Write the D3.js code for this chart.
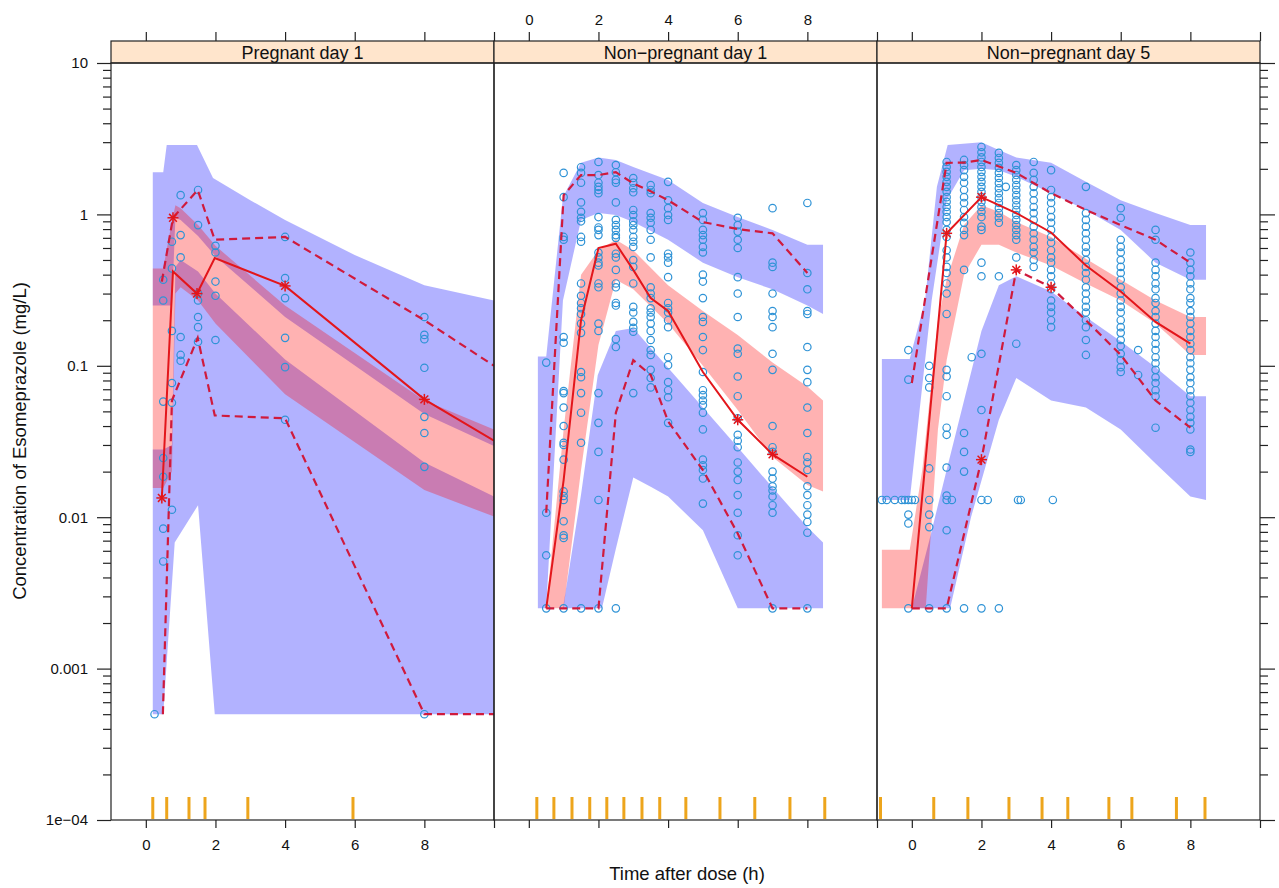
<!DOCTYPE html>
<html>
<head>
<meta charset="utf-8">
<script src="https://cdn.jsdelivr.net/npm/d3@7"></script>
<style>
  body { margin: 0; background: #fff; }
  text { font-family: "Liberation Sans", Arial, sans-serif; fill: #111; }
</style>
</head>
<body>
<svg id="chart" width="1279" height="888"></svg>
<script>
// ---- panel text / axes ----
var panelTitles = ['Pregnant day 1', 'Non\u2212pregnant day 1', 'Non\u2212pregnant day 5'];
var yTicks = [1e-4, 1e-3, 1e-2, 1e-1, 1, 10];
var yTickLabels = ['1e\u221204', '0.001', '0.01', '0.1', '1', '10'];
var xTicks = [0, 2, 4, 6, 8, 10];
var xTickLabels = ['0', '2', '4', '6', '8', ''];

// ---- observed concentrations: [time, [conc...]] ----
var obs1 = [
  [0.25, [0.0005]],
  [0.5, [0.37, 0.27, 0.058, 0.0246, 0.0185, 0.0084, 0.0051]],
  [0.75, [0.66, 0.44, 0.17, 0.077, 0.057, 0.0112]],
  [1.0, [1.34, 0.73, 0.52, 0.155, 0.118, 0.108]],
  [1.5, [1.45, 0.85, 0.30, 0.27, 0.21, 0.18, 0.144]],
  [2.0, [0.62, 0.56, 0.36, 0.29, 0.148]],
  [4.0, [0.71, 0.38, 0.28, 0.153, 0.098, 0.044]],
  [8.0, [0.21, 0.16, 0.15, 0.097, 0.046, 0.036, 0.0215, 0.0005]]
];
var obs2 = [
  [0.5, [0.105, 0.0107, 0.0056, 0.0025]],
  [1.0, [1.88, 1.30, 0.71, 0.68, 0.155, 0.142, 0.068, 0.066, 0.053, 0.040, 0.031, 0.030, 0.024, 0.0148, 0.0138, 0.0130, 0.0094, 0.0076, 0.0073, 0.0025]],
  [1.5, [2.05, 1.88, 1.62, 1.20, 1.04, 0.95, 0.90, 0.71, 0.66, 0.35, 0.29, 0.26, 0.24, 0.22, 0.19, 0.165, 0.091, 0.084, 0.066, 0.049, 0.031, 0.0025]],
  [2.0, [2.22, 1.82, 1.62, 1.52, 1.45, 1.38, 0.96, 0.82, 0.79, 0.73, 0.56, 0.52, 0.48, 0.46, 0.35, 0.33, 0.19, 0.17, 0.066, 0.042, 0.027, 0.013, 0.0025]],
  [2.5, [2.12, 1.9, 1.69, 1.62, 1.20, 0.92, 0.85, 0.79, 0.73, 0.70, 0.55, 0.52, 0.43, 0.35, 0.33, 0.26, 0.25, 0.15, 0.133, 0.0025]],
  [3.0, [1.74, 1.62, 1.49, 1.40, 1.07, 0.99, 0.90, 0.85, 0.79, 0.71, 0.66, 0.61, 0.50, 0.45, 0.35, 0.245, 0.225, 0.195, 0.178, 0.168, 0.066]],
  [3.5, [1.56, 1.45, 1.38, 1.02, 0.95, 0.88, 0.79, 0.68, 0.52, 0.33, 0.30, 0.28, 0.24, 0.225, 0.21, 0.19, 0.17, 0.148, 0.127, 0.118, 0.094, 0.083, 0.072]],
  [4.0, [1.64, 1.24, 1.10, 0.99, 0.92, 0.55, 0.52, 0.48, 0.385, 0.26, 0.24, 0.225, 0.20, 0.18, 0.114, 0.101, 0.078, 0.069, 0.062, 0.042]],
  [5.0, [1.02, 0.92, 0.79, 0.73, 0.68, 0.61, 0.56, 0.40, 0.36, 0.28, 0.21, 0.195, 0.155, 0.127, 0.091, 0.069, 0.064, 0.059, 0.055, 0.049, 0.038, 0.024, 0.022, 0.0205, 0.018, 0.0123]],
  [6.0, [0.95, 0.85, 0.77, 0.68, 0.60, 0.385, 0.30, 0.21, 0.13, 0.12, 0.085, 0.063, 0.045, 0.035, 0.032, 0.029, 0.023, 0.020, 0.0176, 0.014, 0.0107, 0.0076, 0.0056]],
  [7.0, [1.1, 0.48, 0.45, 0.30, 0.23, 0.21, 0.18, 0.12, 0.094, 0.040, 0.029, 0.027, 0.020, 0.018, 0.016, 0.015, 0.0137, 0.012, 0.0107, 0.0025]],
  [8.0, [1.19, 0.41, 0.32, 0.23, 0.22, 0.133, 0.094, 0.078, 0.053, 0.036, 0.025, 0.023, 0.0205, 0.016, 0.014, 0.012, 0.0104, 0.0093, 0.0079, 0.0025]]
];
var obs3 = [
  [-0.86, [0.013]], [-0.72, [0.013]], [-0.49, [0.013]], [-0.29, [0.013]],
  [-0.2, [0.013]], [0.0, [0.013]], [0.09, [0.013]],
  [-0.1, [0.127, 0.081, 0.013, 0.0104, 0.0091, 0.0025]],
  [0.5, [0.1, 0.083, 0.072, 0.021, 0.013, 0.0104, 0.0086, 0.0025]],
  [1.0, [2.22, 2.06, 1.91, 1.77, 1.64, 1.52, 1.41, 1.30, 1.21, 1.12, 1.04, 0.96, 0.89, 0.79, 0.71, 0.58, 0.52, 0.45, 0.41, 0.35, 0.30, 0.22, 0.094, 0.085, 0.063, 0.039, 0.035, 0.0213, 0.0139, 0.013, 0.0082, 0.0025]],
  [1.15, [0.013]],
  [1.5, [2.29, 2.12, 1.96, 1.77, 1.62, 1.45, 1.30, 1.19, 1.07, 0.96, 0.88, 0.79, 0.73, 0.43, 0.036, 0.027, 0.020, 0.0025]],
  [1.72, [0.114]],
  [2.0, [2.79, 2.57, 2.38, 2.22, 2.06, 1.91, 1.77, 1.64, 1.52, 1.41, 1.30, 1.21, 1.12, 1.04, 0.96, 0.83, 0.79, 0.48, 0.39, 0.12, 0.051, 0.013, 0.0025]],
  [2.18, [0.013]],
  [2.5, [2.55, 2.36, 2.19, 2.03, 1.88, 1.74, 1.61, 1.49, 1.38, 1.28, 1.19, 1.10, 1.02, 0.95, 0.88, 0.39, 0.0025]],
  [2.7, [1.52]],
  [3.0, [2.12, 1.96, 1.82, 1.69, 1.56, 1.45, 1.34, 1.24, 1.15, 1.07, 0.99, 0.92, 0.85, 0.79, 0.73, 0.68, 0.52, 0.14]],
  [3.05, [0.013]], [3.13, [0.013]],
  [3.5, [2.22, 1.88, 1.69, 1.52, 1.38, 1.24, 1.12, 1.02, 0.92, 0.83, 0.75, 0.68, 0.61, 0.56, 0.50, 0.45]],
  [4.0, [1.96, 1.45, 1.30, 1.19, 1.07, 0.96, 0.88, 0.79, 0.71, 0.65, 0.58, 0.52, 0.48, 0.43, 0.39, 0.35, 0.32, 0.27, 0.245, 0.225, 0.20, 0.18]],
  [4.05, [0.013]],
  [5.0, [1.52, 1.02, 0.92, 0.83, 0.75, 0.68, 0.61, 0.56, 0.50, 0.45, 0.41, 0.37, 0.33, 0.30, 0.27, 0.245, 0.225, 0.20, 0.18, 0.148, 0.118]],
  [6.0, [1.10, 0.95, 0.68, 0.61, 0.56, 0.50, 0.45, 0.41, 0.37, 0.33, 0.30, 0.27, 0.245, 0.225, 0.20, 0.18, 0.165, 0.148, 0.135, 0.12, 0.109, 0.098, 0.091]],
  [6.5, [0.127, 0.087]],
  [7.0, [0.79, 0.68, 0.48, 0.43, 0.39, 0.35, 0.32, 0.28, 0.26, 0.23, 0.21, 0.19, 0.17, 0.155, 0.14, 0.127, 0.114, 0.104, 0.094, 0.084, 0.077, 0.069, 0.063, 0.039]],
  [8.0, [0.56, 0.48, 0.43, 0.39, 0.35, 0.32, 0.28, 0.26, 0.23, 0.21, 0.19, 0.17, 0.155, 0.14, 0.127, 0.114, 0.104, 0.094, 0.084, 0.077, 0.069, 0.063, 0.057, 0.051, 0.046, 0.042, 0.038, 0.028, 0.027]]
];

// ---- observed percentiles: [time, conc] ----
var med1 = [[0.46, 0.0134], [0.78, 0.42], [1.47, 0.30], [1.98, 0.515], [4.0, 0.337], [8.0, 0.06], [10.0, 0.032]];
var hi1 = [[0.46, 0.36], [0.78, 0.95], [1.49, 1.45], [1.98, 0.68], [4.0, 0.71], [8.0, 0.2], [10.0, 0.1]];
var lo1 = [[0.49, 0.0005], [0.75, 0.059], [1.49, 0.153], [1.98, 0.047], [4.0, 0.045], [8.0, 0.0005], [10.0, 0.0005]];
var stars1 = [[0.46, 0.0134], [0.78, 0.95], [1.47, 0.30], [4.0, 0.337], [8.0, 0.06]];

var med2 = [[0.5, 0.0025], [1.0, 0.0176], [1.5, 0.2], [2.0, 0.6], [2.5, 0.64], [3.0, 0.43], [3.5, 0.28], [4.0, 0.23], [5.0, 0.091], [6.0, 0.044], [7.0, 0.026], [8.0, 0.0185]];
var hi2 = [[0.5, 0.0107], [1.0, 1.34], [1.5, 1.82], [2.0, 1.82], [2.5, 1.9], [3.0, 1.6], [3.5, 1.42], [4.0, 1.24], [5.0, 0.89], [6.0, 0.8], [7.0, 0.75], [8.0, 0.41]];
var lo2 = [[0.5, 0.0025], [1.0, 0.0025], [1.5, 0.0025], [2.0, 0.0025], [2.5, 0.049], [3.0, 0.109], [3.5, 0.087], [4.0, 0.043], [5.0, 0.0205], [6.0, 0.0078], [7.0, 0.0025], [8.0, 0.0025]];
var stars2 = [[6.0, 0.044], [7.0, 0.026]];

var med3 = [[0, 0.0025], [1, 0.75], [2, 1.3], [3, 1.02], [4, 0.76], [5, 0.46], [6, 0.31], [7, 0.195], [8, 0.14]];
var hi3 = [[0, 0.077], [1, 2.19], [1.5, 2.2], [2, 2.29], [3, 1.88], [4, 1.38], [5, 1.07], [6, 0.85], [7, 0.68], [8, 0.48]];
var lo3 = [[0, 0.0025], [0.5, 0.0025], [1, 0.0025], [2, 0.024], [3, 0.43], [4, 0.33], [5, 0.2], [6, 0.118], [7, 0.059], [8, 0.039]];
var stars3 = [[1, 0.75], [2, 1.3], [2, 0.024], [3, 0.43], [4, 0.33]];

// ---- simulated confidence bands: edges as [time, conc] ----
var p1UpTop = [[0.2, 1.9], [0.5, 1.9], [0.6, 2.87], [1.47, 2.87], [1.93, 1.74], [3, 1.24], [4, 0.92], [6, 0.54], [8, 0.34], [10, 0.27]];
var p1UpBot = [[0.2, 0.25], [0.5, 0.25], [0.75, 0.25], [0.85, 0.95], [1.0, 0.92], [1.5, 0.72], [2.0, 0.53], [4.0, 0.21], [8.0, 0.048], [10, 0.0295]];
var p1MedTop = [[0.2, 0.44], [0.5, 0.44], [0.75, 0.9], [0.85, 1.15], [1.0, 1.1], [1.5, 0.85], [2.0, 0.62], [4.0, 0.25], [8.0, 0.059], [10, 0.038]];
var p1MedBot = [[0.2, 0.0156], [0.5, 0.0156], [0.75, 0.02], [0.85, 0.3], [1.0, 0.33], [1.5, 0.27], [2.0, 0.19], [4.0, 0.065], [8.0, 0.0151], [10, 0.0101]];
var p1LoTop = [[0.2, 0.028], [0.5, 0.028], [0.75, 0.03], [0.85, 0.45], [1.0, 0.5], [1.5, 0.42], [2.0, 0.3], [4.0, 0.11], [8.0, 0.023], [10, 0.0137]];
var p1LoBot = [[0.2, 0.0005], [0.5, 0.0005], [0.83, 0.0068], [1.5, 0.012], [1.98, 0.0005], [10, 0.0005]];

var p2UpTop = [[0.26, 0.115], [0.5, 0.115], [0.98, 1.30], [1.5, 2.19], [2.0, 2.38], [2.5, 2.29], [3.0, 2.06], [4.0, 1.69], [5.0, 1.19], [6.0, 0.96], [7.0, 0.79], [8.0, 0.63], [8.45, 0.63]];
var p2UpBot = [[0.26, 0.0025], [0.5, 0.0025], [0.98, 0.27], [1.5, 0.92], [2.0, 1.02], [2.5, 0.99], [3.0, 0.89], [4.0, 0.68], [5.0, 0.48], [6.0, 0.385], [7.0, 0.32], [8.0, 0.25], [8.45, 0.22]];
var p2MedTop = [[0.5, 0.0025], [1.0, 0.038], [1.5, 0.40], [2.0, 0.58], [2.5, 0.68], [3.0, 0.58], [4.0, 0.34], [5.0, 0.23], [6.0, 0.16], [7.0, 0.105], [8.0, 0.073], [8.45, 0.059]];
var p2MedBot = [[0.5, 0.0025], [1.0, 0.0025], [1.5, 0.0205], [2.0, 0.137], [2.5, 0.37], [3.0, 0.32], [4.0, 0.19], [5.0, 0.10], [6.0, 0.051], [7.0, 0.025], [8.0, 0.0163], [8.45, 0.0148]];
var p2LoTop = [[0.98, 0.0025], [1.5, 0.0141], [1.98, 0.087], [2.5, 0.17], [3.0, 0.178], [3.5, 0.131], [4.0, 0.097], [5.0, 0.053], [6.0, 0.029], [7.0, 0.0157], [8.0, 0.0086], [8.45, 0.0068]];
var p2LoBot = [[0.98, 0.0025], [2.1, 0.0025], [2.5, 0.0062], [3.0, 0.0183], [3.5, 0.0159], [4.0, 0.0137], [5.0, 0.0082], [6.0, 0.0025], [8.45, 0.0025]];

var p3UpTop = [[-0.86, 0.111], [-0.06, 0.111], [0.38, 0.27], [0.72, 1.52], [1.03, 2.87], [2.0, 3.0], [2.5, 2.66], [3.0, 2.38], [4.0, 2.19], [5.0, 1.64], [6.0, 1.24], [7.0, 1.02], [8.0, 0.85], [8.45, 0.85]];
var p3UpBot = [[-0.86, 0.013], [-0.06, 0.013], [0.57, 0.27], [1.0, 1.24], [1.5, 1.96], [2.0, 2.0], [2.5, 1.96], [3.0, 1.77], [4.0, 1.38], [5.0, 1.07], [6.0, 0.79], [7.0, 0.48], [8.0, 0.37], [8.45, 0.37]];
var p3MedTop = [[-0.86, 0.0061], [-0.06, 0.0061], [0.3, 0.0205], [0.75, 0.2], [1.0, 0.37], [1.5, 0.85], [2.0, 1.15], [2.5, 1.04], [3.0, 0.89], [4.0, 0.71], [5.0, 0.51], [6.0, 0.37], [7.0, 0.27], [8.0, 0.21], [8.45, 0.21]];
var p3MedBot = [[-0.86, 0.0025], [-0.06, 0.0025], [0.4, 0.0025], [0.75, 0.038], [1.0, 0.109], [1.5, 0.40], [2.0, 0.63], [2.5, 0.63], [3.0, 0.56], [4.0, 0.46], [5.0, 0.35], [6.0, 0.27], [7.0, 0.19], [8.0, 0.118], [8.45, 0.118]];
var p3LoTop = [[0.0, 0.0025], [0.5, 0.007], [1.0, 0.0205], [1.5, 0.059], [2.0, 0.17], [2.5, 0.34], [3.0, 0.39], [4.0, 0.31], [5.0, 0.21], [6.0, 0.145], [7.0, 0.098], [8.0, 0.063], [8.45, 0.063]];
var p3LoBot = [[0.0, 0.0025], [1.1, 0.0025], [1.7, 0.01], [2.5, 0.044], [3.0, 0.083], [4.0, 0.059], [5.0, 0.053], [6.0, 0.038], [7.0, 0.0226], [8.0, 0.0137], [8.45, 0.013]];

// ---- bin boundaries (rug) ----
var rug1 = [0.2, 0.6, 1.24, 1.7, 2.93, 5.95];
var rug2 = [0.23, 0.72, 1.24, 1.75, 2.24, 2.73, 3.25, 3.76, 4.51, 5.49, 6.49, 7.5, 8.5];
var rug3 = [-0.9, 0.63, 1.61, 2.79, 3.74, 4.48, 5.66, 6.32, 7.6, 8.42];

var panels = [
  { obs: obs1, med: med1, hi: hi1, lo: lo1, stars: stars1, rug: rug1,
    blue: [[p1UpTop, p1UpBot], [p1LoTop, p1LoBot]], red: [p1MedTop, p1MedBot] },
  { obs: obs2, med: med2, hi: hi2, lo: lo2, stars: stars2, rug: rug2,
    blue: [[p2UpTop, p2UpBot], [p2LoTop, p2LoBot]], red: [p2MedTop, p2MedBot] },
  { obs: obs3, med: med3, hi: hi3, lo: lo3, stars: stars3, rug: rug3,
    blue: [[p3UpTop, p3UpBot], [p3LoTop, p3LoBot]], red: [p3MedTop, p3MedBot] }
];

// ---- layout ----
var panelLeft = [111, 494, 877], panelW = 383;
var plotTop = 63, plotBottom = 820, stripTop = 41;

var svg = d3.select('#chart');
var y = d3.scaleLog().domain([1e-4, 10]).range([plotBottom, plotTop]);

var minor = [];
yTicks.slice(0, -1).forEach(function(d) {
  for (var k = 2; k <= 9; k++) minor.push(d * k);
});

panels.forEach(function(p, i) {
  var x = d3.scaleLinear().domain([-1, 10]).range([panelLeft[i], panelLeft[i] + panelW]);
  var g = svg.append('g');

  g.append('clipPath').attr('id', 'clip' + i)
    .append('rect')
    .attr('x', panelLeft[i]).attr('y', plotTop)
    .attr('width', panelW).attr('height', plotBottom - plotTop);

  var body = g.append('g').attr('clip-path', 'url(#clip' + i + ')');

  var line = d3.line()
    .x(function(d) { return x(d[0]); })
    .y(function(d) { return y(d[1]); });

  var band = function(edges) {
    return line(edges[0].concat(edges[1].slice().reverse())) + 'Z';
  };

  p.blue.forEach(function(edges) {
    body.append('path')
      .attr('d', band(edges))
      .attr('fill', 'blue')
      .attr('fill-opacity', 0.3);
  });
  body.append('path')
    .attr('d', band(p.red))
    .attr('fill', 'red')
    .attr('fill-opacity', 0.3);

  var pts = [];
  p.obs.forEach(function(o) {
    o[1].forEach(function(v) { pts.push([o[0], v]); });
  });
  body.selectAll('circle.obs')
    .data(pts)
    .enter().append('circle')
    .attr('class', 'obs')
    .attr('cx', function(d) { return x(d[0]); })
    .attr('cy', function(d) { return y(d[1]); })
    .attr('r', 3.7)
    .attr('fill', 'none')
    .attr('stroke', '#2f93d6')
    .attr('stroke-width', 1.2);

  [p.hi, p.lo].forEach(function(d) {
    body.append('path')
      .attr('d', line(d))
      .attr('fill', 'none')
      .attr('stroke', '#d01a3c')
      .attr('stroke-width', 2.2)
      .attr('stroke-dasharray', '8,5');
  });
  body.append('path')
    .attr('d', line(p.med))
    .attr('fill', 'none')
    .attr('stroke', '#e3161b')
    .attr('stroke-width', 2);

  // asterisks
  var st = body.selectAll('g.star')
    .data(p.stars)
    .enter().append('g')
    .attr('class', 'star')
    .attr('transform', function(d) { return 'translate(' + x(d[0]) + ',' + y(d[1]) + ')'; });
  [0, 45, 90, 135].forEach(function(a) {
    st.append('line')
      .attr('x1', -5.5).attr('x2', 5.5)
      .attr('transform', 'rotate(' + a + ')')
      .attr('stroke', '#e3161b')
      .attr('stroke-width', 1.5);
  });

  // rug of bin limits
  body.selectAll('line.rug')
    .data(p.rug)
    .enter().append('line')
    .attr('class', 'rug')
    .attr('x1', function(d) { return x(d); })
    .attr('x2', function(d) { return x(d); })
    .attr('y1', 797).attr('y2', 819)
    .attr('stroke', '#eda51c')
    .attr('stroke-width', 3);

  // strip
  g.append('rect')
    .attr('x', panelLeft[i]).attr('y', stripTop)
    .attr('width', panelW).attr('height', plotTop - stripTop)
    .attr('fill', '#ffe5cc')
    .attr('stroke', '#222').attr('stroke-width', 1.2);
  g.append('text')
    .attr('x', panelLeft[i] + panelW / 2).attr('y', 58.5)
    .attr('text-anchor', 'middle')
    .style('font-size', '18px')
    .text(panelTitles[i]);

  // panel border
  g.append('rect')
    .attr('x', panelLeft[i]).attr('y', plotTop)
    .attr('width', panelW).attr('height', plotBottom - plotTop)
    .attr('fill', 'none')
    .attr('stroke', '#222').attr('stroke-width', 1.2);

  // x axes, labels bottom on 1 and 3, top on 2
  var fmt = function(d) { return xTickLabels[xTicks.indexOf(d)]; };
  var bottomAx = d3.axisBottom(x).tickValues(xTicks).tickSize(8).tickPadding(11)
    .tickFormat(i === 1 ? '' : fmt);
  var topAx = d3.axisTop(x).tickValues(xTicks).tickSize(9).tickPadding(7)
    .tickFormat(i === 1 ? fmt : '');
  var ab = g.append('g').attr('transform', 'translate(0,' + plotBottom + ')').call(bottomAx);
  var at = g.append('g').attr('transform', 'translate(0,' + stripTop + ')').call(topAx);
  [ab, at].forEach(function(a) {
    a.select('.domain').remove();
    a.selectAll('line').attr('stroke', '#222').attr('stroke-width', 1.2);
    a.selectAll('text').style('font-size', '15px').attr('fill', '#111')
      .style('font-family', '"Liberation Sans", Arial, sans-serif');
  });
});

// y axes: left of panel 1 with labels, right of panel 3 without
var yl = svg.append('g').attr('transform', 'translate(111,0)')
  .call(d3.axisLeft(y).tickValues(yTicks).tickSize(14).tickPadding(9)
    .tickFormat(function(d) { return yTickLabels[yTicks.indexOf(d)]; }));
var yr = svg.append('g').attr('transform', 'translate(1260,0)')
  .call(d3.axisRight(y).tickValues(yTicks).tickSize(15).tickFormat(''));
var yl2 = svg.append('g').attr('transform', 'translate(111,0)')
  .call(d3.axisLeft(y).tickValues(minor).tickSize(8).tickFormat(''));
var yr2 = svg.append('g').attr('transform', 'translate(1260,0)')
  .call(d3.axisRight(y).tickValues(minor).tickSize(8).tickFormat(''));
[yl, yr, yl2, yr2].forEach(function(a) {
  a.select('.domain').remove();
  a.selectAll('line').attr('stroke', '#222').attr('stroke-width', 1.2);
  a.selectAll('text').style('font-size', '15px').attr('fill', '#111')
    .style('font-family', '"Liberation Sans", Arial, sans-serif');
});

// titles
svg.append('text')
  .attr('x', 687).attr('y', 880)
  .attr('text-anchor', 'middle')
  .style('font-size', '18.5px')
  .text('Time after dose (h)');
svg.append('text')
  .attr('transform', 'translate(26,441) rotate(-90)')
  .attr('text-anchor', 'middle')
  .style('font-size', '18.5px')
  .text('Concentration of Esomeprazole (mg/L)');
</script>
</body>
</html>
